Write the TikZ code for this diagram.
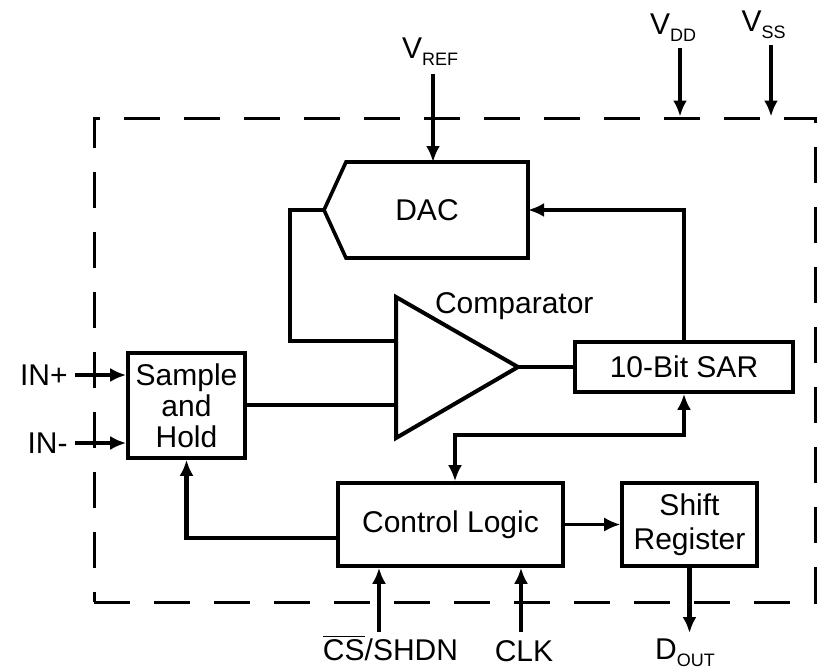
\documentclass[tikz,border=0pt]{standalone}
\usepackage{fontspec}
\setmainfont{Liberation Sans}
\usepackage{tikz}
\usetikzlibrary{arrows.meta,positioning}
\newcommand{\pinsub}[1]{\raisebox{-3.5pt}{\fontsize{9}{9}\selectfont #1}}
\tikzset{
    >={Latex[length=8pt,width=7pt]},
    block/.style={draw, line width=1.8pt, inner sep=0pt, align=center},
    wire/.style={line width=2.2pt},
    pin/.style={inner sep=1pt},
}

\begin{document}
\begin{tikzpicture}[x=0.5pt, y=-0.5pt, font=\fontsize{15}{17}\selectfont]
    \useasboundingbox (0,0) rectangle (818,669);
    \node[draw, dash pattern=on 18pt off 12pt, line width=1.5pt, inner sep=0pt,
        minimum width=360.5pt, minimum height=242pt] (chip) at (454.5,360) {};

    \node[block, minimum width=58.5pt, minimum height=52.5pt,
        font=\fontsize{15}{15.5}\selectfont] (sh) at (186.5,405.5) {Sample\\and\\Hold};
    \node[block, minimum width=109pt, minimum height=25pt] (sar) at (684,367) {10-Bit SAR};
    \node[block, minimum width=112.5pt, minimum height=41.5pt] (cl) at (450.5,524.5) {Control Logic};
    \node[block, minimum width=67.5pt, minimum height=41.5pt] (sr) at (689.5,524.5) {Shift\\Register};

    \draw[line width=1.8pt] (346,162) -- (528,162) -- (528,258) -- (346,258) -- (324,210) -- cycle;
    \node (dac) at (427,210) {DAC};
    \coordinate (dacin) at (324,210);
    \coordinate (dacfb) at (528,210);
    \coordinate (dactop) at (433,162);

    \draw[line width=2pt] (396,297) -- (518,367) -- (396,438) -- cycle;
    \node[anchor=west] (cmp) at (428,306) {Comparator};
    \coordinate (cmpa) at (396,341);
    \coordinate (cmpb) at (396,405);
    \coordinate (cmpo) at (518,367);

    \coordinate (vrefin) at (433,74);
    \coordinate (vddin) at (680,48);
    \coordinate (vssin) at (771,45);
    \coordinate (inp) at (75,375);
    \coordinate (inm) at (75,443);
    \coordinate (csin) at (379,632);
    \coordinate (clkin) at (521,632);
    \coordinate (dout) at (689.5,633);

    \node[pin, above=3pt of vrefin, xshift=-1.5pt] (vref) {V\pinsub{REF}};
    \node[pin, above=2pt of vddin, xshift=-3.5pt] (vdd) {V\pinsub{DD}};
    \node[pin, above=2pt of vssin, xshift=-3.75pt] (vss) {V\pinsub{SS}};
    \node[pin, left=2.5pt of inp] (inplus) {IN+};
    \node[pin, left=2.5pt of inm] (inminus) {IN-};
    \node[pin, below=0.5pt of csin, xshift=5.75pt] (cs) {\(\overline{\mbox{CS}}\)/SHDN};
    \node[pin, below=3pt of clkin, xshift=1.5pt] (clk) {CLK};
    \node[pin, below=1.5pt of dout, xshift=-2.25pt] (doutl) {D\pinsub{OUT}};

    \draw[wire, ->] (vrefin) -- (dactop);
    \draw[wire, ->] (vddin) -- (vddin |- chip.north);
    \draw[wire, ->] (vssin) -- (vssin |- chip.north);
    \draw[wire, ->] (inp) -- (inp -| sh.west);
    \draw[wire, ->] (inm) -- (inm -| sh.west);
    \draw[wire, ->] (sar.north) |- (dacfb);
    \draw[wire] (dacin) -- ++(-34,0) |- (cmpa);
    \draw[wire] (cmpb -| sh.east) -- (cmpb);
    \draw[wire] (cmpo) -- (sar.west);
    \draw[wire, <->] ([xshift=2.25pt]cl.north) -- ++(0,-46) -| (sar.south);
    \draw[wire, ->] ([yshift=-6.75pt]cl.west) -| (sh.south);
    \draw[line width=1.1pt, ->] (cl.east) -- (sr.west);
    \draw[wire, ->] (csin) -- (csin |- cl.south);
    \draw[wire, ->] (clkin) -- (clkin |- cl.south);
    \draw[wire, ->] (sr.south) -- (sr.south |- dout);
\end{tikzpicture}
\end{document}
